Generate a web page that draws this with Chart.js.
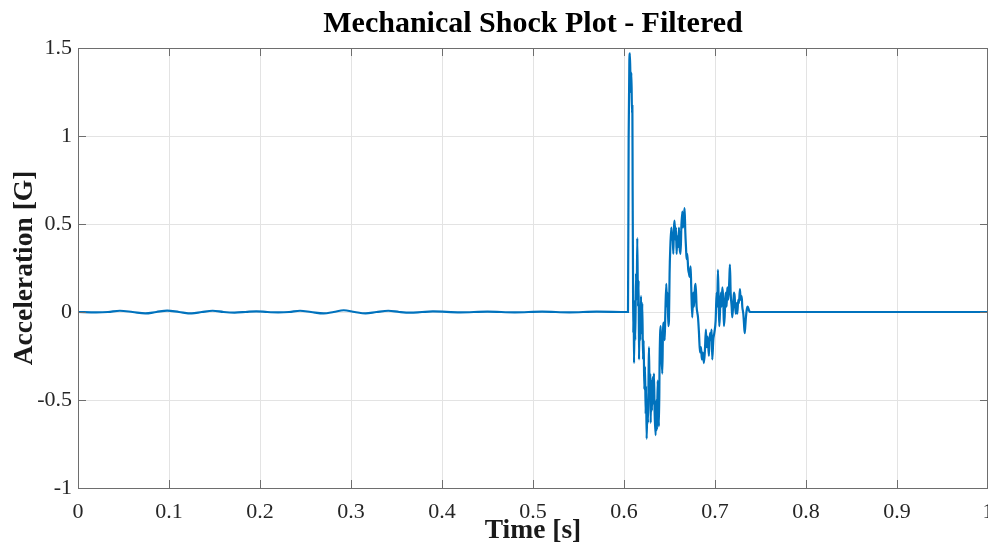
<!DOCTYPE html>
<html>
<head>
<meta charset="utf-8">
<script src="https://cdn.jsdelivr.net/npm/chart.js@4.4.0/dist/chart.umd.min.js"></script>
<style>
  html, body { margin: 0; padding: 0; background: #fff; }
  #wrap { width: 988px; height: 542px; }
</style>
</head>
<body>
<div id="wrap"><canvas id="shockChart" width="988" height="542"></canvas></div>
<script>
// time (s) and acceleration (G)
const timeS = [
  0, 0.02, 0.033, 0.046, 0.06, 0.074, 0.086, 0.098, 0.111, 0.125, 0.136, 0.148, 0.16, 0.172, 0.184,
  0.196, 0.208, 0.22, 0.232, 0.244, 0.256, 0.27, 0.281, 0.292, 0.304, 0.316, 0.328, 0.341, 0.353,
  0.365, 0.378, 0.39, 0.42, 0.45, 0.48, 0.51, 0.54, 0.57, 0.6044,
  0.6051, 0.6059, 0.6066, 0.6073, 0.6081, 0.6088, 0.6092, 0.6095, 0.6099, 0.6102, 0.6106, 0.6110,
  0.6117, 0.6124, 0.6132, 0.6139, 0.6146, 0.6154, 0.6161, 0.6165, 0.6172, 0.6179, 0.6187, 0.6194,
  0.6201, 0.6209, 0.6216, 0.6223, 0.6231, 0.6238, 0.6242, 0.6249, 0.6256, 0.6264, 0.6271, 0.6275,
  0.6282, 0.6289, 0.6293, 0.6300, 0.6307, 0.6315, 0.6322, 0.6329, 0.6337, 0.6348, 0.6355, 0.6362,
  0.6370, 0.6377, 0.6384, 0.6392, 0.6403, 0.6410, 0.6421, 0.6428, 0.6439, 0.6447, 0.6454, 0.6465,
  0.6472, 0.6479, 0.6487, 0.6494, 0.6501, 0.6509, 0.6520, 0.6527, 0.6534, 0.6542, 0.6549, 0.6556,
  0.6564, 0.6571, 0.6578, 0.6586, 0.6597, 0.6604, 0.6611, 0.6622, 0.6630, 0.6641, 0.6648, 0.6659,
  0.6666, 0.6674, 0.6681, 0.6688, 0.6695, 0.6706, 0.6714, 0.6721, 0.6732, 0.6739, 0.6750, 0.6761,
  0.6769, 0.6780, 0.6787, 0.6798, 0.6813, 0.6824, 0.6835, 0.6846, 0.6856, 0.6867, 0.6878, 0.6889,
  0.6900, 0.6908, 0.6919, 0.6933, 0.6944, 0.6952, 0.6963, 0.6970, 0.6981, 0.6992, 0.7007, 0.7018,
  0.7025, 0.7032, 0.7040, 0.7047, 0.7054, 0.7065, 0.7073, 0.7080, 0.7091, 0.7098, 0.7106, 0.7117,
  0.7128, 0.7135, 0.7146, 0.7157, 0.7164, 0.7172, 0.7183, 0.7190, 0.7201, 0.7208, 0.7216, 0.7227,
  0.7238, 0.7245, 0.7256, 0.7263, 0.7274, 0.7282, 0.7293, 0.7300, 0.7311, 0.7318, 0.7326, 0.7333,
  0.7340, 0.7348, 0.7359, 0.7373, 0.7384, 0.80, 0.90, 1.0
];
const accelG = [
  0, -0.002, 0, 0.007, 0, -0.008, 0, 0.008, 0, -0.008, 0, 0.007, 0, -0.003, 0,
  0.004, 0, -0.002, 0, 0.007, 0, -0.008, 0, 0.01, 0, -0.008, 0, 0.007, 0,
  -0.004, 0, 0.003, -0.002, 0.002, -0.002, 0.002, -0.002, 0.002, 0,
  0.98, 1.43, 1.47, 1.25, 1.36, 1.13, 1.17, 0.69, 0.22, -0.12, 0.07, -0.29,
  -0.01, -0.16, 0.22, 0.07, 0.42, 0.03, 0.18, -0.27, -0.01, -0.16, 0.09, -0.12,
  0.05, -0.27, -0.16, -0.44, -0.31, -0.58, -0.42, -0.72, -0.54, -0.63, -0.31, -0.20,
  -0.50, -0.35, -0.63, -0.39, -0.56, -0.37, -0.52, -0.35, -0.58, -0.70, -0.50, -0.67,
  -0.39, -0.54, -0.65, -0.25, -0.08, -0.23, -0.35, -0.12, -0.06, -0.16, -0.01, 0.16,
  0.03, 0.11, -0.08, -0.05, 0.22, 0.37, 0.48, 0.41, 0.45, 0.33, 0.48, 0.52,
  0.41, 0.48, 0.33, 0.43, 0.37, 0.48, 0.37, 0.33, 0.48, 0.57, 0.48, 0.54,
  0.59, 0.45, 0.37, 0.30, 0.33, 0.24, 0.22, 0.20, 0.26, 0.14, -0.03, 0.11,
  0.03, 0.14, 0.16, 0.03, -0.03, -0.12, -0.23, -0.20, -0.27, -0.23, -0.29, -0.22,
  -0.10, -0.20, -0.14, -0.25, -0.12, -0.16, -0.10, -0.27, -0.16, -0.12, -0.05, 0.11,
  0.03, 0.24, 0.07, -0.08, -0.01, 0.11, 0.03, 0.14, 0.07, -0.08, -0.03, 0.11,
  0.03, 0.14, 0.07, 0.18, 0.27, 0.11, 0.03, -0.03, 0.05, 0.11, 0.09, -0.01,
  0.05, -0.01, 0.07, 0.05, 0.13, 0.07, 0.09, 0.03, -0.01, -0.06, -0.12, -0.08,
  -0.03, 0.01, 0.03, 0.01, 0, 0, 0, 0
];
const xTickLabels = ['0', '0.1', '0.2', '0.3', '0.4', '0.5', '0.6', '0.7', '0.8', '0.9', '1'];
const yTickLabels = ['-1', '-0.5', '0', '0.5', '1', '1.5'];

const serif = "'Liberation Serif', 'Times New Roman', serif";
const axisColor = '#6e6e6e';

// MATLAB-style box with inward tick marks
const boxPlugin = {
  id: 'matlabBox',
  afterDraw(chart) {
    const { ctx, chartArea: a, scales } = chart;
    ctx.save();
    ctx.strokeStyle = axisColor;
    ctx.lineWidth = 1;
    ctx.beginPath();
    scales.x.ticks.forEach(t => {
      const px = Math.round(scales.x.getPixelForValue(t.value)) + 0.5;
      ctx.moveTo(px, a.top); ctx.lineTo(px, a.top + 8);
      ctx.moveTo(px, a.bottom); ctx.lineTo(px, a.bottom - 8);
    });
    scales.y.ticks.forEach(t => {
      const py = Math.round(scales.y.getPixelForValue(t.value)) + 0.5;
      ctx.moveTo(a.left, py); ctx.lineTo(a.left + 8, py);
      ctx.moveTo(a.right, py); ctx.lineTo(a.right - 8, py);
    });
    ctx.stroke();
    ctx.strokeRect(Math.round(a.left) + 0.5, Math.round(a.top) + 0.5,
      Math.round(a.right - a.left) - 1, Math.round(a.bottom - a.top));
    ctx.restore();
  }
};

new Chart(document.getElementById('shockChart'), {
  type: 'line',
  data: {
    datasets: [{
      data: timeS.map((t, i) => ({ x: t, y: accelG[i] })),
      borderColor: '#0072bd',
      borderWidth: 2.2,
      pointRadius: 0,
      cubicInterpolationMode: 'monotone',
      fill: false
    }]
  },
  options: {
    responsive: false,
    animation: false,
    layout: { padding: 0 },
    plugins: {
      legend: { display: false },
      tooltip: { enabled: false },
      title: {
        display: true,
        fullSize: false,
        text: 'Mechanical Shock Plot - Filtered',
        color: '#000',
        font: { family: serif, size: 30, weight: 'bold', lineHeight: 1.2 },
        padding: { top: 6, bottom: 6 }
      }
    },
    scales: {
      x: {
        type: 'linear',
        min: 0, max: 1,
        grid: { color: '#e3e3e3', drawTicks: false },
        border: { display: false },
        ticks: {
          stepSize: 0.1,
          padding: 11,
          color: '#262626',
          maxRotation: 0,
          font: { family: serif, size: 22 },
          callback: (v, i) => xTickLabels[i]
        },
        title: {
          display: true,
          text: 'Time [s]',
          color: '#1a1a1a',
          font: { family: serif, size: 27.5, weight: 'bold', lineHeight: 1 },
          padding: { top: 0, bottom: -3 }
        },
        afterFit(scale) {
          scale.height = 54;
          scale.paddingLeft = 0;
          scale.paddingRight = 0;
        }
      },
      y: {
        type: 'linear',
        min: -1, max: 1.5,
        grid: { color: '#e3e3e3', drawTicks: false },
        border: { display: false },
        ticks: {
          stepSize: 0.5,
          padding: 6,
          color: '#262626',
          font: { family: serif, size: 22 },
          callback: (v, i) => yTickLabels[i]
        },
        title: {
          display: true,
          text: 'Acceleration [G]',
          color: '#1a1a1a',
          font: { family: serif, size: 27.5, weight: 'bold', lineHeight: 1 },
          padding: { top: 11, bottom: 0 }
        },
        afterFit(scale) {
          scale.width = 78;
          scale.paddingTop = 0;
          scale.paddingBottom = 0;
        }
      }
    }
  },
  plugins: [boxPlugin]
});
</script>
</body>
</html>
